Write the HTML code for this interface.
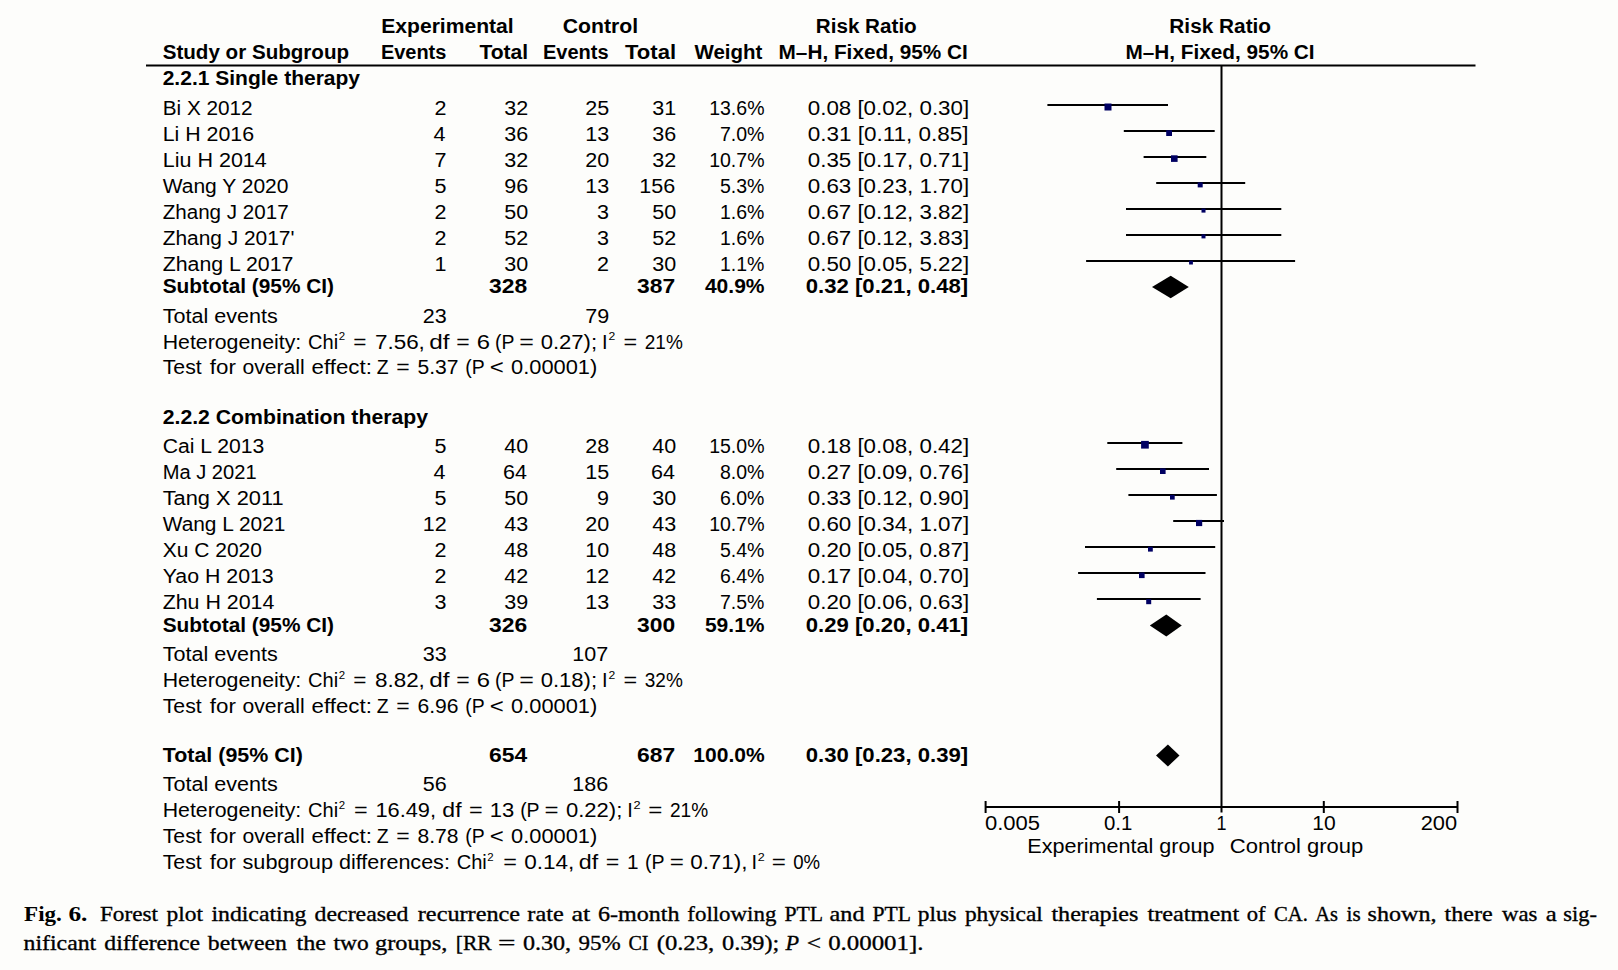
<!DOCTYPE html>
<html><head><meta charset="utf-8"><title>Forest plot</title>
<style>
html,body{margin:0;padding:0;background:#fdfdfb;}
svg{display:block}

text{fill:#000;white-space:pre}
.r{font-family:"Liberation Sans",sans-serif;font-size:20px}
.b{font-family:"Liberation Sans",sans-serif;font-size:20px;font-weight:bold}
.s{font-family:"Liberation Sans",sans-serif;font-size:11px}
.c{font-family:"Liberation Serif",serif;font-size:21.5px;font-weight:bold}
.w,.wi{font-family:"Liberation Serif",serif;font-size:22px;stroke:#000;stroke-width:0.35px}
.wi{font-style:italic}
</style></head><body>
<svg width="1618" height="970" viewBox="0 0 1618 970">
<rect x="0" y="0" width="1618" height="970" fill="#fdfdfb"/>
<rect x="146" y="64.5" width="1329.5" height="2" fill="#000"/>
<rect x="1220.5" y="66" width="2" height="746.5" fill="#000"/>
<rect x="985" y="806" width="473" height="2" fill="#000"/>
<rect x="984.6" y="801" width="2" height="12" fill="#000"/>
<rect x="1118.1" y="801" width="2" height="12" fill="#000"/>
<rect x="1322.8" y="801" width="2" height="12" fill="#000"/>
<rect x="1456.5" y="801" width="2" height="12" fill="#000"/>
<rect x="1047.4" y="104" width="120.6" height="2" fill="#000"/>
<rect x="1104.5" y="103.5" width="7.0" height="7.0" fill="#000062"/>
<rect x="1123.8" y="130" width="90.9" height="2" fill="#000"/>
<rect x="1166.2" y="130.2" width="5.8" height="5.8" fill="#000062"/>
<rect x="1143.6" y="156" width="62.7" height="2" fill="#000"/>
<rect x="1171.0" y="155.3" width="6.6" height="6.6" fill="#000062"/>
<rect x="1156.2" y="182" width="89.0" height="2" fill="#000"/>
<rect x="1197.7" y="182.4" width="5.0" height="5.0" fill="#000062"/>
<rect x="1126.0" y="208" width="155.3" height="2" fill="#000"/>
<rect x="1201.5" y="208.6" width="4.0" height="4.0" fill="#000062"/>
<rect x="1126.0" y="234" width="155.3" height="2" fill="#000"/>
<rect x="1201.5" y="234.4" width="4.0" height="4.0" fill="#000062"/>
<rect x="1086.1" y="260" width="209.0" height="2" fill="#000"/>
<rect x="1189.1" y="260.7" width="3.8" height="3.8" fill="#000062"/>
<rect x="1107.3" y="442" width="75.1" height="2" fill="#000"/>
<rect x="1141.1" y="440.9" width="7.7" height="7.7" fill="#000062"/>
<rect x="1116.2" y="468" width="92.8" height="2" fill="#000"/>
<rect x="1160.0" y="468.4" width="5.6" height="5.6" fill="#000062"/>
<rect x="1128.4" y="494" width="88.5" height="2" fill="#000"/>
<rect x="1170.0" y="494.9" width="4.7" height="4.7" fill="#000062"/>
<rect x="1173.2" y="520" width="50.8" height="2" fill="#000"/>
<rect x="1196.0" y="519.9" width="6.2" height="6.2" fill="#000062"/>
<rect x="1085.0" y="546" width="130.2" height="2" fill="#000"/>
<rect x="1148.0" y="546.8" width="4.8" height="4.8" fill="#000062"/>
<rect x="1078.1" y="572" width="127.4" height="2" fill="#000"/>
<rect x="1139.0" y="572.5" width="5.6" height="5.6" fill="#000062"/>
<rect x="1096.9" y="598" width="103.7" height="2" fill="#000"/>
<rect x="1146.2" y="599.2" width="5.0" height="5.0" fill="#000062"/>
<polygon points="1152.0,287.0 1170.7,275.8 1188.8,287.0 1170.7,298.2" fill="#000"/>
<polygon points="1149.8,625.5 1166.3,614.5 1181.8,625.5 1166.3,636.5" fill="#000"/>
<polygon points="1156.0,755.5 1167.9,744.5 1179.5,755.5 1167.9,766.5" fill="#000"/>
<text class="b" x="381.25" y="33.10" textLength="132.45" lengthAdjust="spacingAndGlyphs">Experimental</text>
<text class="b" x="562.74" y="33.10" textLength="75.42" lengthAdjust="spacingAndGlyphs">Control</text>
<text class="b" x="815.77" y="33.10" textLength="100.97" lengthAdjust="spacingAndGlyphs">Risk Ratio</text>
<text class="b" x="1169.36" y="33.10" textLength="101.68" lengthAdjust="spacingAndGlyphs">Risk Ratio</text>
<text class="b" x="162.70" y="58.50" textLength="186.40" lengthAdjust="spacingAndGlyphs">Study or Subgroup</text>
<text class="b" x="380.90" y="58.50" textLength="65.49" lengthAdjust="spacingAndGlyphs">Events</text>
<text class="b" x="479.40" y="58.50" textLength="48.77" lengthAdjust="spacingAndGlyphs">Total</text>
<text class="b" x="543.00" y="58.50" textLength="65.59" lengthAdjust="spacingAndGlyphs">Events</text>
<text class="b" x="625.00" y="58.50" textLength="51.03" lengthAdjust="spacingAndGlyphs">Total</text>
<text class="b" x="694.50" y="58.50" textLength="67.80" lengthAdjust="spacingAndGlyphs">Weight</text>
<text class="b" x="778.56" y="58.50" textLength="189.27" lengthAdjust="spacingAndGlyphs">M–H, Fixed, 95% CI</text>
<text class="b" x="1125.46" y="58.50" textLength="189.17" lengthAdjust="spacingAndGlyphs">M–H, Fixed, 95% CI</text>
<text class="b" x="162.70" y="84.80" textLength="197.35" lengthAdjust="spacingAndGlyphs">2.2.1 Single therapy</text>
<text class="r" x="162.70" y="114.70" textLength="89.96" lengthAdjust="spacingAndGlyphs">Bi X 2012</text>
<text class="r" x="434.54" y="114.70" textLength="11.97" lengthAdjust="spacingAndGlyphs">2</text>
<text class="r" x="504.20" y="114.70" textLength="23.94" lengthAdjust="spacingAndGlyphs">32</text>
<text class="r" x="585.30" y="114.70" textLength="23.94" lengthAdjust="spacingAndGlyphs">25</text>
<text class="r" x="652.20" y="114.70" textLength="23.94" lengthAdjust="spacingAndGlyphs">31</text>
<text class="r" x="709.15" y="114.70" textLength="55.35" lengthAdjust="spacingAndGlyphs">13.6%</text>
<text class="r" x="807.78" y="114.70" textLength="161.36" lengthAdjust="spacingAndGlyphs">0.08 [0.02, 0.30]</text>
<text class="r" x="162.70" y="140.75" textLength="91.37" lengthAdjust="spacingAndGlyphs">Li H 2016</text>
<text class="r" x="433.46" y="140.75" textLength="11.97" lengthAdjust="spacingAndGlyphs">4</text>
<text class="r" x="504.20" y="140.75" textLength="23.94" lengthAdjust="spacingAndGlyphs">36</text>
<text class="r" x="585.30" y="140.75" textLength="23.94" lengthAdjust="spacingAndGlyphs">13</text>
<text class="r" x="652.20" y="140.75" textLength="23.94" lengthAdjust="spacingAndGlyphs">36</text>
<text class="r" x="719.88" y="140.75" textLength="44.50" lengthAdjust="spacingAndGlyphs">7.0%</text>
<text class="r" x="807.78" y="140.75" textLength="160.84" lengthAdjust="spacingAndGlyphs">0.31 [0.11, 0.85]</text>
<text class="r" x="162.70" y="166.80" textLength="104.11" lengthAdjust="spacingAndGlyphs">Liu H 2014</text>
<text class="r" x="434.54" y="166.80" textLength="11.97" lengthAdjust="spacingAndGlyphs">7</text>
<text class="r" x="504.20" y="166.80" textLength="23.94" lengthAdjust="spacingAndGlyphs">32</text>
<text class="r" x="585.30" y="166.80" textLength="23.94" lengthAdjust="spacingAndGlyphs">20</text>
<text class="r" x="652.20" y="166.80" textLength="23.94" lengthAdjust="spacingAndGlyphs">32</text>
<text class="r" x="709.15" y="166.80" textLength="55.35" lengthAdjust="spacingAndGlyphs">10.7%</text>
<text class="r" x="807.78" y="166.80" textLength="161.36" lengthAdjust="spacingAndGlyphs">0.35 [0.17, 0.71]</text>
<text class="r" x="162.70" y="192.85" textLength="125.77" lengthAdjust="spacingAndGlyphs">Wang Y 2020</text>
<text class="r" x="434.54" y="192.85" textLength="11.97" lengthAdjust="spacingAndGlyphs">5</text>
<text class="r" x="504.20" y="192.85" textLength="23.94" lengthAdjust="spacingAndGlyphs">96</text>
<text class="r" x="585.30" y="192.85" textLength="23.94" lengthAdjust="spacingAndGlyphs">13</text>
<text class="r" x="639.29" y="192.85" textLength="35.92" lengthAdjust="spacingAndGlyphs">156</text>
<text class="r" x="719.88" y="192.85" textLength="44.50" lengthAdjust="spacingAndGlyphs">5.3%</text>
<text class="r" x="807.78" y="192.85" textLength="161.36" lengthAdjust="spacingAndGlyphs">0.63 [0.23, 1.70]</text>
<text class="r" x="162.70" y="218.90" textLength="125.94" lengthAdjust="spacingAndGlyphs">Zhang J 2017</text>
<text class="r" x="434.54" y="218.90" textLength="11.97" lengthAdjust="spacingAndGlyphs">2</text>
<text class="r" x="504.20" y="218.90" textLength="23.94" lengthAdjust="spacingAndGlyphs">50</text>
<text class="r" x="597.14" y="218.90" textLength="11.97" lengthAdjust="spacingAndGlyphs">3</text>
<text class="r" x="652.20" y="218.90" textLength="23.94" lengthAdjust="spacingAndGlyphs">50</text>
<text class="r" x="719.88" y="218.90" textLength="44.50" lengthAdjust="spacingAndGlyphs">1.6%</text>
<text class="r" x="807.78" y="218.90" textLength="161.36" lengthAdjust="spacingAndGlyphs">0.67 [0.12, 3.82]</text>
<text class="r" x="162.70" y="244.95" textLength="131.79" lengthAdjust="spacingAndGlyphs">Zhang J 2017'</text>
<text class="r" x="434.54" y="244.95" textLength="11.97" lengthAdjust="spacingAndGlyphs">2</text>
<text class="r" x="504.20" y="244.95" textLength="23.94" lengthAdjust="spacingAndGlyphs">52</text>
<text class="r" x="597.14" y="244.95" textLength="11.97" lengthAdjust="spacingAndGlyphs">3</text>
<text class="r" x="652.20" y="244.95" textLength="23.94" lengthAdjust="spacingAndGlyphs">52</text>
<text class="r" x="719.88" y="244.95" textLength="44.50" lengthAdjust="spacingAndGlyphs">1.6%</text>
<text class="r" x="807.78" y="244.95" textLength="161.36" lengthAdjust="spacingAndGlyphs">0.67 [0.12, 3.83]</text>
<text class="r" x="162.70" y="271.00" textLength="130.75" lengthAdjust="spacingAndGlyphs">Zhang L 2017</text>
<text class="r" x="434.54" y="271.00" textLength="11.97" lengthAdjust="spacingAndGlyphs">1</text>
<text class="r" x="504.20" y="271.00" textLength="23.94" lengthAdjust="spacingAndGlyphs">30</text>
<text class="r" x="597.14" y="271.00" textLength="11.97" lengthAdjust="spacingAndGlyphs">2</text>
<text class="r" x="652.20" y="271.00" textLength="23.94" lengthAdjust="spacingAndGlyphs">30</text>
<text class="r" x="719.88" y="271.00" textLength="44.50" lengthAdjust="spacingAndGlyphs">1.1%</text>
<text class="r" x="807.78" y="271.00" textLength="161.36" lengthAdjust="spacingAndGlyphs">0.50 [0.05, 5.22]</text>
<text class="b" x="162.70" y="293.20" textLength="171.37" lengthAdjust="spacingAndGlyphs">Subtotal (95% CI)</text>
<text class="b" x="489.11" y="293.20" textLength="38.12" lengthAdjust="spacingAndGlyphs">328</text>
<text class="b" x="637.11" y="293.20" textLength="38.12" lengthAdjust="spacingAndGlyphs">387</text>
<text class="b" x="704.92" y="293.20" textLength="59.64" lengthAdjust="spacingAndGlyphs">40.9%</text>
<text class="b" x="805.69" y="293.20" textLength="162.57" lengthAdjust="spacingAndGlyphs">0.32 [0.21, 0.48]</text>
<text class="r" x="162.70" y="322.90" textLength="115.09" lengthAdjust="spacingAndGlyphs">Total events</text>
<text class="r" x="422.70" y="322.90" textLength="23.94" lengthAdjust="spacingAndGlyphs">23</text>
<text class="r" x="585.30" y="322.90" textLength="23.94" lengthAdjust="spacingAndGlyphs">79</text>
<text class="r" x="162.70" y="348.50" textLength="138.51" lengthAdjust="spacingAndGlyphs">Heterogeneity:</text>
<text class="r" x="308.00" y="348.50" textLength="30.12" lengthAdjust="spacingAndGlyphs">Chi</text>
<text class="s" x="338.66" y="340.20" textLength="6.37" lengthAdjust="spacingAndGlyphs">2</text>
<text class="r" x="353.27" y="348.50" textLength="13.21" lengthAdjust="spacingAndGlyphs">=</text>
<text class="r" x="374.98" y="348.50" textLength="49.89" lengthAdjust="spacingAndGlyphs">7.56,</text>
<text class="r" x="429.39" y="348.50" textLength="20.23" lengthAdjust="spacingAndGlyphs">df</text>
<text class="r" x="456.35" y="348.50" textLength="13.44" lengthAdjust="spacingAndGlyphs">=</text>
<text class="r" x="476.71" y="348.50" textLength="13.23" lengthAdjust="spacingAndGlyphs">6</text>
<text class="r" x="495.05" y="348.50" textLength="19.40" lengthAdjust="spacingAndGlyphs">(P</text>
<text class="r" x="519.30" y="348.50" textLength="14.61" lengthAdjust="spacingAndGlyphs">=</text>
<text class="r" x="540.70" y="348.50" textLength="56.38" lengthAdjust="spacingAndGlyphs">0.27);</text>
<text class="r" x="602.00" y="348.50" textLength="5.56" lengthAdjust="spacingAndGlyphs">I</text>
<text class="s" x="608.50" y="340.20" textLength="6.74" lengthAdjust="spacingAndGlyphs">2</text>
<text class="r" x="623.53" y="348.50" textLength="13.67" lengthAdjust="spacingAndGlyphs">=</text>
<text class="r" x="644.75" y="348.50" textLength="38.03" lengthAdjust="spacingAndGlyphs">21%</text>
<text class="r" x="162.70" y="374.40" textLength="39.03" lengthAdjust="spacingAndGlyphs">Test</text>
<text class="r" x="209.80" y="374.40" textLength="26.08" lengthAdjust="spacingAndGlyphs">for</text>
<text class="r" x="242.54" y="374.40" textLength="62.23" lengthAdjust="spacingAndGlyphs">overall</text>
<text class="r" x="311.59" y="374.40" textLength="60.28" lengthAdjust="spacingAndGlyphs">effect:</text>
<text class="r" x="376.64" y="374.40" textLength="11.85" lengthAdjust="spacingAndGlyphs">Z</text>
<text class="r" x="396.35" y="374.40" textLength="13.44" lengthAdjust="spacingAndGlyphs">=</text>
<text class="r" x="417.45" y="374.40" textLength="41.04" lengthAdjust="spacingAndGlyphs">5.37</text>
<text class="r" x="465.25" y="374.40" textLength="19.40" lengthAdjust="spacingAndGlyphs">(P</text>
<text class="r" x="489.70" y="374.40" textLength="14.03" lengthAdjust="spacingAndGlyphs">&lt;</text>
<text class="r" x="511.11" y="374.40" textLength="86.15" lengthAdjust="spacingAndGlyphs">0.00001)</text>
<text class="b" x="162.70" y="423.70" textLength="265.37" lengthAdjust="spacingAndGlyphs">2.2.2 Combination therapy</text>
<text class="r" x="162.70" y="453.40" textLength="101.56" lengthAdjust="spacingAndGlyphs">Cai L 2013</text>
<text class="r" x="434.54" y="453.40" textLength="11.97" lengthAdjust="spacingAndGlyphs">5</text>
<text class="r" x="504.20" y="453.40" textLength="23.94" lengthAdjust="spacingAndGlyphs">40</text>
<text class="r" x="585.30" y="453.40" textLength="23.94" lengthAdjust="spacingAndGlyphs">28</text>
<text class="r" x="652.20" y="453.40" textLength="23.94" lengthAdjust="spacingAndGlyphs">40</text>
<text class="r" x="709.15" y="453.40" textLength="55.35" lengthAdjust="spacingAndGlyphs">15.0%</text>
<text class="r" x="807.78" y="453.40" textLength="161.36" lengthAdjust="spacingAndGlyphs">0.18 [0.08, 0.42]</text>
<text class="r" x="162.70" y="479.35" textLength="93.89" lengthAdjust="spacingAndGlyphs">Ma J 2021</text>
<text class="r" x="433.46" y="479.35" textLength="11.97" lengthAdjust="spacingAndGlyphs">4</text>
<text class="r" x="503.12" y="479.35" textLength="23.94" lengthAdjust="spacingAndGlyphs">64</text>
<text class="r" x="585.30" y="479.35" textLength="23.94" lengthAdjust="spacingAndGlyphs">15</text>
<text class="r" x="651.12" y="479.35" textLength="23.94" lengthAdjust="spacingAndGlyphs">64</text>
<text class="r" x="719.88" y="479.35" textLength="44.50" lengthAdjust="spacingAndGlyphs">8.0%</text>
<text class="r" x="807.78" y="479.35" textLength="161.36" lengthAdjust="spacingAndGlyphs">0.27 [0.09, 0.76]</text>
<text class="r" x="162.70" y="505.30" textLength="120.92" lengthAdjust="spacingAndGlyphs">Tang X 2011</text>
<text class="r" x="434.54" y="505.30" textLength="11.97" lengthAdjust="spacingAndGlyphs">5</text>
<text class="r" x="504.20" y="505.30" textLength="23.94" lengthAdjust="spacingAndGlyphs">50</text>
<text class="r" x="597.14" y="505.30" textLength="11.97" lengthAdjust="spacingAndGlyphs">9</text>
<text class="r" x="652.20" y="505.30" textLength="23.94" lengthAdjust="spacingAndGlyphs">30</text>
<text class="r" x="719.88" y="505.30" textLength="44.50" lengthAdjust="spacingAndGlyphs">6.0%</text>
<text class="r" x="807.78" y="505.30" textLength="161.36" lengthAdjust="spacingAndGlyphs">0.33 [0.12, 0.90]</text>
<text class="r" x="162.70" y="531.25" textLength="122.72" lengthAdjust="spacingAndGlyphs">Wang L 2021</text>
<text class="r" x="422.70" y="531.25" textLength="23.94" lengthAdjust="spacingAndGlyphs">12</text>
<text class="r" x="504.20" y="531.25" textLength="23.94" lengthAdjust="spacingAndGlyphs">43</text>
<text class="r" x="585.30" y="531.25" textLength="23.94" lengthAdjust="spacingAndGlyphs">20</text>
<text class="r" x="652.20" y="531.25" textLength="23.94" lengthAdjust="spacingAndGlyphs">43</text>
<text class="r" x="709.15" y="531.25" textLength="55.35" lengthAdjust="spacingAndGlyphs">10.7%</text>
<text class="r" x="807.78" y="531.25" textLength="161.36" lengthAdjust="spacingAndGlyphs">0.60 [0.34, 1.07]</text>
<text class="r" x="162.70" y="557.20" textLength="99.24" lengthAdjust="spacingAndGlyphs">Xu C 2020</text>
<text class="r" x="434.54" y="557.20" textLength="11.97" lengthAdjust="spacingAndGlyphs">2</text>
<text class="r" x="504.20" y="557.20" textLength="23.94" lengthAdjust="spacingAndGlyphs">48</text>
<text class="r" x="585.30" y="557.20" textLength="23.94" lengthAdjust="spacingAndGlyphs">10</text>
<text class="r" x="652.20" y="557.20" textLength="23.94" lengthAdjust="spacingAndGlyphs">48</text>
<text class="r" x="719.88" y="557.20" textLength="44.50" lengthAdjust="spacingAndGlyphs">5.4%</text>
<text class="r" x="807.78" y="557.20" textLength="161.36" lengthAdjust="spacingAndGlyphs">0.20 [0.05, 0.87]</text>
<text class="r" x="162.70" y="583.15" textLength="111.03" lengthAdjust="spacingAndGlyphs">Yao H 2013</text>
<text class="r" x="434.54" y="583.15" textLength="11.97" lengthAdjust="spacingAndGlyphs">2</text>
<text class="r" x="504.20" y="583.15" textLength="23.94" lengthAdjust="spacingAndGlyphs">42</text>
<text class="r" x="585.30" y="583.15" textLength="23.94" lengthAdjust="spacingAndGlyphs">12</text>
<text class="r" x="652.20" y="583.15" textLength="23.94" lengthAdjust="spacingAndGlyphs">42</text>
<text class="r" x="719.88" y="583.15" textLength="44.50" lengthAdjust="spacingAndGlyphs">6.4%</text>
<text class="r" x="807.78" y="583.15" textLength="161.36" lengthAdjust="spacingAndGlyphs">0.17 [0.04, 0.70]</text>
<text class="r" x="162.70" y="609.10" textLength="111.65" lengthAdjust="spacingAndGlyphs">Zhu H 2014</text>
<text class="r" x="434.54" y="609.10" textLength="11.97" lengthAdjust="spacingAndGlyphs">3</text>
<text class="r" x="504.20" y="609.10" textLength="23.94" lengthAdjust="spacingAndGlyphs">39</text>
<text class="r" x="585.30" y="609.10" textLength="23.94" lengthAdjust="spacingAndGlyphs">13</text>
<text class="r" x="652.20" y="609.10" textLength="23.94" lengthAdjust="spacingAndGlyphs">33</text>
<text class="r" x="719.88" y="609.10" textLength="44.50" lengthAdjust="spacingAndGlyphs">7.5%</text>
<text class="r" x="807.78" y="609.10" textLength="161.36" lengthAdjust="spacingAndGlyphs">0.20 [0.06, 0.63]</text>
<text class="b" x="162.70" y="631.50" textLength="171.37" lengthAdjust="spacingAndGlyphs">Subtotal (95% CI)</text>
<text class="b" x="489.11" y="631.50" textLength="38.12" lengthAdjust="spacingAndGlyphs">326</text>
<text class="b" x="637.11" y="631.50" textLength="38.12" lengthAdjust="spacingAndGlyphs">300</text>
<text class="b" x="704.92" y="631.50" textLength="59.64" lengthAdjust="spacingAndGlyphs">59.1%</text>
<text class="b" x="805.69" y="631.50" textLength="162.57" lengthAdjust="spacingAndGlyphs">0.29 [0.20, 0.41]</text>
<text class="r" x="162.70" y="661.30" textLength="115.09" lengthAdjust="spacingAndGlyphs">Total events</text>
<text class="r" x="422.70" y="661.30" textLength="23.94" lengthAdjust="spacingAndGlyphs">33</text>
<text class="r" x="572.39" y="661.30" textLength="35.92" lengthAdjust="spacingAndGlyphs">107</text>
<text class="r" x="162.70" y="687.00" textLength="138.51" lengthAdjust="spacingAndGlyphs">Heterogeneity:</text>
<text class="r" x="308.00" y="687.00" textLength="30.12" lengthAdjust="spacingAndGlyphs">Chi</text>
<text class="s" x="338.66" y="678.70" textLength="6.37" lengthAdjust="spacingAndGlyphs">2</text>
<text class="r" x="353.27" y="687.00" textLength="13.21" lengthAdjust="spacingAndGlyphs">=</text>
<text class="r" x="374.98" y="687.00" textLength="49.89" lengthAdjust="spacingAndGlyphs">8.82,</text>
<text class="r" x="429.39" y="687.00" textLength="20.23" lengthAdjust="spacingAndGlyphs">df</text>
<text class="r" x="456.35" y="687.00" textLength="13.44" lengthAdjust="spacingAndGlyphs">=</text>
<text class="r" x="476.71" y="687.00" textLength="13.23" lengthAdjust="spacingAndGlyphs">6</text>
<text class="r" x="495.05" y="687.00" textLength="19.40" lengthAdjust="spacingAndGlyphs">(P</text>
<text class="r" x="519.30" y="687.00" textLength="14.61" lengthAdjust="spacingAndGlyphs">=</text>
<text class="r" x="540.70" y="687.00" textLength="56.38" lengthAdjust="spacingAndGlyphs">0.18);</text>
<text class="r" x="602.00" y="687.00" textLength="5.56" lengthAdjust="spacingAndGlyphs">I</text>
<text class="s" x="608.50" y="678.70" textLength="6.74" lengthAdjust="spacingAndGlyphs">2</text>
<text class="r" x="623.53" y="687.00" textLength="13.67" lengthAdjust="spacingAndGlyphs">=</text>
<text class="r" x="644.75" y="687.00" textLength="38.03" lengthAdjust="spacingAndGlyphs">32%</text>
<text class="r" x="162.70" y="713.00" textLength="39.03" lengthAdjust="spacingAndGlyphs">Test</text>
<text class="r" x="209.80" y="713.00" textLength="26.08" lengthAdjust="spacingAndGlyphs">for</text>
<text class="r" x="242.54" y="713.00" textLength="62.23" lengthAdjust="spacingAndGlyphs">overall</text>
<text class="r" x="311.59" y="713.00" textLength="60.28" lengthAdjust="spacingAndGlyphs">effect:</text>
<text class="r" x="376.64" y="713.00" textLength="11.85" lengthAdjust="spacingAndGlyphs">Z</text>
<text class="r" x="396.35" y="713.00" textLength="13.44" lengthAdjust="spacingAndGlyphs">=</text>
<text class="r" x="417.45" y="713.00" textLength="41.04" lengthAdjust="spacingAndGlyphs">6.96</text>
<text class="r" x="465.25" y="713.00" textLength="19.40" lengthAdjust="spacingAndGlyphs">(P</text>
<text class="r" x="489.70" y="713.00" textLength="14.03" lengthAdjust="spacingAndGlyphs">&lt;</text>
<text class="r" x="511.11" y="713.00" textLength="86.15" lengthAdjust="spacingAndGlyphs">0.00001)</text>
<text class="b" x="162.70" y="761.90" textLength="140.12" lengthAdjust="spacingAndGlyphs">Total (95% CI)</text>
<text class="b" x="489.11" y="761.90" textLength="38.12" lengthAdjust="spacingAndGlyphs">654</text>
<text class="b" x="637.11" y="761.90" textLength="38.12" lengthAdjust="spacingAndGlyphs">687</text>
<text class="b" x="693.35" y="761.90" textLength="71.34" lengthAdjust="spacingAndGlyphs">100.0%</text>
<text class="b" x="805.69" y="761.90" textLength="162.57" lengthAdjust="spacingAndGlyphs">0.30 [0.23, 0.39]</text>
<text class="r" x="162.70" y="791.00" textLength="115.09" lengthAdjust="spacingAndGlyphs">Total events</text>
<text class="r" x="422.70" y="791.00" textLength="23.94" lengthAdjust="spacingAndGlyphs">56</text>
<text class="r" x="572.39" y="791.00" textLength="35.92" lengthAdjust="spacingAndGlyphs">186</text>
<text class="r" x="162.70" y="817.00" textLength="138.51" lengthAdjust="spacingAndGlyphs">Heterogeneity:</text>
<text class="r" x="308.00" y="817.00" textLength="30.12" lengthAdjust="spacingAndGlyphs">Chi</text>
<text class="s" x="338.66" y="808.70" textLength="6.37" lengthAdjust="spacingAndGlyphs">2</text>
<text class="r" x="353.93" y="817.00" textLength="13.67" lengthAdjust="spacingAndGlyphs">=</text>
<text class="r" x="375.42" y="817.00" textLength="60.64" lengthAdjust="spacingAndGlyphs">16.49,</text>
<text class="r" x="442.35" y="817.00" textLength="19.19" lengthAdjust="spacingAndGlyphs">df</text>
<text class="r" x="469.03" y="817.00" textLength="13.67" lengthAdjust="spacingAndGlyphs">=</text>
<text class="r" x="489.70" y="817.00" textLength="24.47" lengthAdjust="spacingAndGlyphs">13</text>
<text class="r" x="520.13" y="817.00" textLength="19.44" lengthAdjust="spacingAndGlyphs">(P</text>
<text class="r" x="544.60" y="817.00" textLength="14.03" lengthAdjust="spacingAndGlyphs">=</text>
<text class="r" x="566.00" y="817.00" textLength="56.27" lengthAdjust="spacingAndGlyphs">0.22);</text>
<text class="r" x="627.20" y="817.00" textLength="5.56" lengthAdjust="spacingAndGlyphs">I</text>
<text class="s" x="633.54" y="808.70" textLength="7.10" lengthAdjust="spacingAndGlyphs">2</text>
<text class="r" x="648.39" y="817.00" textLength="14.14" lengthAdjust="spacingAndGlyphs">=</text>
<text class="r" x="669.95" y="817.00" textLength="38.14" lengthAdjust="spacingAndGlyphs">21%</text>
<text class="r" x="162.70" y="842.90" textLength="39.03" lengthAdjust="spacingAndGlyphs">Test</text>
<text class="r" x="209.80" y="842.90" textLength="26.08" lengthAdjust="spacingAndGlyphs">for</text>
<text class="r" x="242.54" y="842.90" textLength="62.23" lengthAdjust="spacingAndGlyphs">overall</text>
<text class="r" x="311.59" y="842.90" textLength="60.28" lengthAdjust="spacingAndGlyphs">effect:</text>
<text class="r" x="376.64" y="842.90" textLength="11.85" lengthAdjust="spacingAndGlyphs">Z</text>
<text class="r" x="396.35" y="842.90" textLength="13.44" lengthAdjust="spacingAndGlyphs">=</text>
<text class="r" x="417.45" y="842.90" textLength="41.04" lengthAdjust="spacingAndGlyphs">8.78</text>
<text class="r" x="465.25" y="842.90" textLength="19.40" lengthAdjust="spacingAndGlyphs">(P</text>
<text class="r" x="489.70" y="842.90" textLength="14.03" lengthAdjust="spacingAndGlyphs">&lt;</text>
<text class="r" x="511.11" y="842.90" textLength="86.15" lengthAdjust="spacingAndGlyphs">0.00001)</text>
<text class="r" x="162.70" y="868.90" textLength="39.03" lengthAdjust="spacingAndGlyphs">Test</text>
<text class="r" x="209.80" y="868.90" textLength="26.08" lengthAdjust="spacingAndGlyphs">for</text>
<text class="r" x="242.51" y="868.90" textLength="90.53" lengthAdjust="spacingAndGlyphs">subgroup</text>
<text class="r" x="338.92" y="868.90" textLength="110.96" lengthAdjust="spacingAndGlyphs">differences:</text>
<text class="r" x="456.70" y="868.90" textLength="30.12" lengthAdjust="spacingAndGlyphs">Chi</text>
<text class="s" x="487.36" y="860.60" textLength="6.37" lengthAdjust="spacingAndGlyphs">2</text>
<text class="r" x="503.23" y="868.90" textLength="13.67" lengthAdjust="spacingAndGlyphs">=</text>
<text class="r" x="524.17" y="868.90" textLength="50.10" lengthAdjust="spacingAndGlyphs">0.14,</text>
<text class="r" x="578.84" y="868.90" textLength="19.40" lengthAdjust="spacingAndGlyphs">df</text>
<text class="r" x="605.84" y="868.90" textLength="13.56" lengthAdjust="spacingAndGlyphs">=</text>
<text class="r" x="627.12" y="868.90" textLength="11.54" lengthAdjust="spacingAndGlyphs">1</text>
<text class="r" x="644.92" y="868.90" textLength="19.56" lengthAdjust="spacingAndGlyphs">(P</text>
<text class="r" x="669.69" y="868.90" textLength="14.14" lengthAdjust="spacingAndGlyphs">=</text>
<text class="r" x="690.18" y="868.90" textLength="57.34" lengthAdjust="spacingAndGlyphs">0.71),</text>
<text class="r" x="751.40" y="868.90" textLength="5.56" lengthAdjust="spacingAndGlyphs">I</text>
<text class="s" x="757.76" y="860.60" textLength="6.98" lengthAdjust="spacingAndGlyphs">2</text>
<text class="r" x="771.69" y="868.90" textLength="14.14" lengthAdjust="spacingAndGlyphs">=</text>
<text class="r" x="793.27" y="868.90" textLength="26.87" lengthAdjust="spacingAndGlyphs">0%</text>
<text class="r" x="984.90" y="829.90" textLength="55.07" lengthAdjust="spacingAndGlyphs">0.005</text>
<text class="r" x="1103.98" y="829.90" textLength="28.35" lengthAdjust="spacingAndGlyphs">0.1</text>
<text class="r" x="1216.50" y="829.90" textLength="10.01" lengthAdjust="spacingAndGlyphs">1</text>
<text class="r" x="1312.39" y="829.90" textLength="23.42" lengthAdjust="spacingAndGlyphs">10</text>
<text class="r" x="1420.71" y="829.90" textLength="36.40" lengthAdjust="spacingAndGlyphs">200</text>
<text class="r" x="1027.34" y="853.00" textLength="187.13" lengthAdjust="spacingAndGlyphs">Experimental group</text>
<text class="r" x="1229.80" y="853.00" textLength="133.41" lengthAdjust="spacingAndGlyphs">Control group</text>
<text class="c" x="24.10" y="920.80" textLength="37.72" lengthAdjust="spacingAndGlyphs">Fig.</text>
<text class="c" x="68.42" y="920.80" textLength="19.00" lengthAdjust="spacingAndGlyphs">6.</text>
<text class="w" x="99.94" y="920.80" textLength="58.06" lengthAdjust="spacingAndGlyphs">Forest</text>
<text class="w" x="166.50" y="920.80" textLength="36.45" lengthAdjust="spacingAndGlyphs">plot</text>
<text class="w" x="211.40" y="920.80" textLength="95.08" lengthAdjust="spacingAndGlyphs">indicating</text>
<text class="w" x="314.62" y="920.80" textLength="93.88" lengthAdjust="spacingAndGlyphs">decreased</text>
<text class="w" x="417.80" y="920.80" textLength="102.30" lengthAdjust="spacingAndGlyphs">recurrence</text>
<text class="w" x="527.30" y="920.80" textLength="36.37" lengthAdjust="spacingAndGlyphs">rate</text>
<text class="w" x="571.41" y="920.80" textLength="18.86" lengthAdjust="spacingAndGlyphs">at</text>
<text class="w" x="597.91" y="920.80" textLength="81.61" lengthAdjust="spacingAndGlyphs">6-month</text>
<text class="w" x="687.30" y="920.80" textLength="89.09" lengthAdjust="spacingAndGlyphs">following</text>
<text class="w" x="784.41" y="920.80" textLength="38.70" lengthAdjust="spacingAndGlyphs">PTL</text>
<text class="w" x="829.60" y="920.80" textLength="34.94" lengthAdjust="spacingAndGlyphs">and</text>
<text class="w" x="872.42" y="920.80" textLength="38.49" lengthAdjust="spacingAndGlyphs">PTL</text>
<text class="w" x="917.70" y="920.80" textLength="39.03" lengthAdjust="spacingAndGlyphs">plus</text>
<text class="w" x="964.90" y="920.80" textLength="77.95" lengthAdjust="spacingAndGlyphs">physical</text>
<text class="w" x="1051.40" y="920.80" textLength="87.05" lengthAdjust="spacingAndGlyphs">therapies</text>
<text class="w" x="1147.40" y="920.80" textLength="91.79" lengthAdjust="spacingAndGlyphs">treatment</text>
<text class="w" x="1246.77" y="920.80" textLength="18.84" lengthAdjust="spacingAndGlyphs">of</text>
<text class="w" x="1273.96" y="920.80" textLength="33.84" lengthAdjust="spacingAndGlyphs">CA.</text>
<text class="w" x="1315.30" y="920.80" textLength="22.72" lengthAdjust="spacingAndGlyphs">As</text>
<text class="w" x="1346.60" y="920.80" textLength="14.06" lengthAdjust="spacingAndGlyphs">is</text>
<text class="w" x="1367.61" y="920.80" textLength="68.84" lengthAdjust="spacingAndGlyphs">shown,</text>
<text class="w" x="1444.50" y="920.80" textLength="48.07" lengthAdjust="spacingAndGlyphs">there</text>
<text class="w" x="1502.00" y="920.80" textLength="35.33" lengthAdjust="spacingAndGlyphs">was</text>
<text class="w" x="1545.78" y="920.80" textLength="10.96" lengthAdjust="spacingAndGlyphs">a</text>
<text class="w" x="1563.38" y="920.80" textLength="33.62" lengthAdjust="spacingAndGlyphs">sig-</text>
<text class="w" x="23.50" y="949.90" textLength="72.72" lengthAdjust="spacingAndGlyphs">nificant</text>
<text class="w" x="104.32" y="949.90" textLength="95.70" lengthAdjust="spacingAndGlyphs">difference</text>
<text class="w" x="207.80" y="949.90" textLength="79.02" lengthAdjust="spacingAndGlyphs">between</text>
<text class="w" x="296.50" y="949.90" textLength="29.48" lengthAdjust="spacingAndGlyphs">the</text>
<text class="w" x="333.50" y="949.90" textLength="35.17" lengthAdjust="spacingAndGlyphs">two</text>
<text class="w" x="374.99" y="949.90" textLength="72.34" lengthAdjust="spacingAndGlyphs">groups,</text>
<text class="w" x="455.82" y="949.90" textLength="35.87" lengthAdjust="spacingAndGlyphs">[RR</text>
<text class="w" x="498.09" y="949.90" textLength="17.50" lengthAdjust="spacingAndGlyphs">=</text>
<text class="w" x="522.90" y="949.90" textLength="48.19" lengthAdjust="spacingAndGlyphs">0.30,</text>
<text class="w" x="578.45" y="949.90" textLength="42.19" lengthAdjust="spacingAndGlyphs">95%</text>
<text class="w" x="628.49" y="949.90" textLength="20.01" lengthAdjust="spacingAndGlyphs">CI</text>
<text class="w" x="656.68" y="949.90" textLength="57.51" lengthAdjust="spacingAndGlyphs">(0.23,</text>
<text class="w" x="722.00" y="949.90" textLength="57.36" lengthAdjust="spacingAndGlyphs">0.39);</text>
<text class="wi" x="785.60" y="949.90" textLength="13.56" lengthAdjust="spacingAndGlyphs">P</text>
<text class="w" x="806.75" y="949.90" textLength="14.34" lengthAdjust="spacingAndGlyphs">&lt;</text>
<text class="w" x="828.17" y="949.90" textLength="95.33" lengthAdjust="spacingAndGlyphs">0.00001].</text>
</svg>
</body></html>
